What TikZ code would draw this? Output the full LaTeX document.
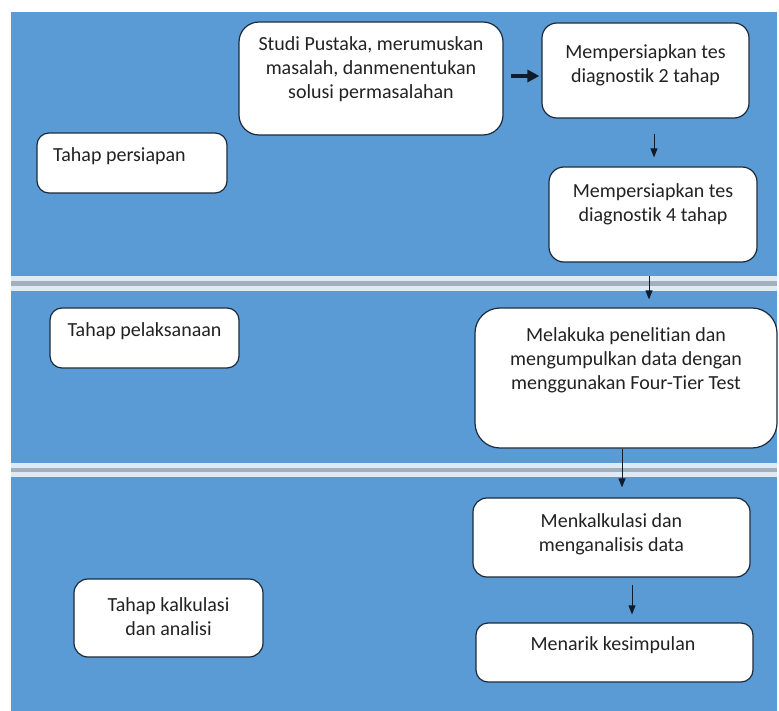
\documentclass[tikz,border=0pt]{standalone}
\usepackage{fontspec}
\setmainfont{Carlito}[Ligatures={NoCommon}]
\usetikzlibrary{arrows.meta}
\definecolor{bandblue}{HTML}{5B9BD5}
\definecolor{sepl}{HTML}{DDEBF7}
\definecolor{sepg}{HTML}{A3AFBB}
\definecolor{edge}{HTML}{1B2A3A}
\definecolor{ink}{HTML}{222222}
\definecolor{arrowc}{HTML}{101C2A}
\tikzset{
  box/.style={draw=edge, line width=1.2pt, fill=white, rounded corners=#1, inner sep=0pt},
  txt/.style={text=ink, align=center, inner sep=0pt, font=\fontsize{20}{24}\selectfont},
  arr/.style={draw=arrowc, line width=1pt, -{Triangle[width=7pt,length=9pt]}},
  arrthick/.style={draw=arrowc, line width=3.5pt, -{Triangle[width=12pt,length=12pt]}}
}
\begin{document}
\begin{tikzpicture}[x=1pt,y=-1pt]
\useasboundingbox (0,0) rectangle (779,711);
\fill[white] (0,0) rectangle (779,711);
\fill[bandblue] (11,12) rectangle (777,711);
% separators
\fill[sepl] (11,276) rectangle (777,291);
\fill[sepg] (11,281) rectangle (777,286);
\fill[sepl] (11,463) rectangle (777,477);
\fill[sepg] (11,468) rectangle (777,472);

% boxes
\node[box=12pt, minimum width=190pt, minimum height=60pt] (persiapan) at (132,163) {};
\node[box=20pt, minimum width=264pt, minimum height=113pt] (studi) at (371,78.5) {};
\node[box=15pt, minimum width=207pt, minimum height=95pt] (tes2) at (645.5,70.5) {};
\node[box=15pt, minimum width=208pt, minimum height=95pt] (tes4) at (653,214.5) {};
\node[box=12pt, minimum width=189pt, minimum height=60pt] (pelaksanaan) at (144.5,338) {};
\node[box=25pt, minimum width=302pt, minimum height=140pt] (melakuka) at (626,378) {};
\node[box=14pt, minimum width=189pt, minimum height=78pt] (kalkulasi) at (168.5,618) {};
\node[box=14pt, minimum width=277pt, minimum height=79pt] (menkal) at (611.5,537.5) {};
\node[box=12pt, minimum width=277pt, minimum height=59pt] (menarik) at (614.5,652.5) {};

% texts
\node[txt, anchor=west] (persiapan-t) at (53,156) {Tahap persiapan};
\node[txt] (studi-t) at (371,69.5) {Studi Pustaka, merumuskan\\masalah, danmenentukan\\solusi permasalahan};
\node[txt] (tes2-t) at (645.5,65) {Mempersiapkan tes\\diagnostik 2 tahap};
\node[txt] (tes4-t) at (653,204) {Mempersiapkan tes\\diagnostik 4 tahap};
\node[txt] (pelaksanaan-t) at (144.5,331) {Tahap pelaksanaan};
\node[txt] (melakuka-t) at (626,360) {Melakuka penelitian dan\\mengumpulkan data dengan\\menggunakan Four-Tier Test};
\node[txt] (kalkulasi-t) at (168.5,616.5) {Tahap kalkulasi\\dan analisi};
\node[txt] (menkal-t) at (611.5,534.5) {Menkalkulasi dan\\menganalisis data};
\node[txt] (menarik-t) at (613,645) {Menarik kesimpulan};

% connectors
\draw[arrthick, shorten <=7pt, shorten >=2pt] ([yshift=2.5pt]studi.east) -- ([yshift=2.5pt]studi.east -| tes2.west);
\draw[arr, shorten <=15pt, shorten >=9pt] (654,0 |- tes2.south) -- (654,0 |- tes4.north);
\draw[arr, shorten <=13pt, shorten >=8pt] (649,0 |- tes4.south) -- (649,0 |- melakuka.north);
\draw[arr, shorten >=10pt] (622,0 |- melakuka.south) -- (622,0 |- menkal.north);
\draw[arr, shorten <=7pt, shorten >=8pt] (632,0 |- menkal.south) -- (632,0 |- menarik.north);
\end{tikzpicture}
\end{document}
